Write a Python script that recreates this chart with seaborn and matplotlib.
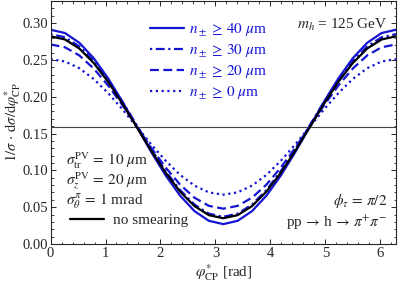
import numpy as np
import pandas as pd
import matplotlib
matplotlib.use("Agg")
import matplotlib.pyplot as plt
import seaborn as sns
from matplotlib.ticker import MultipleLocator

# x positions (rad), 15-degree steps from 0 to 2*pi
phi = [k * np.pi / 12 for k in range(25)]

half_40 = [0.291, 0.2865, 0.2733, 0.2523, 0.225, 0.1932, 0.159, 0.1248, 0.093, 0.0657, 0.0447, 0.0315, 0.027]
half_30 = [0.285, 0.2808, 0.2684, 0.2487, 0.223, 0.1931, 0.161, 0.1289, 0.099, 0.0733, 0.0536, 0.0412, 0.037]
half_20 = [0.271, 0.2672, 0.2561, 0.2383, 0.2153, 0.1884, 0.1595, 0.1306, 0.1038, 0.0807, 0.0629, 0.0518, 0.048]
half_0 = [0.251, 0.2479, 0.2387, 0.2241, 0.205, 0.1828, 0.159, 0.1352, 0.113, 0.0939, 0.0793, 0.0701, 0.067]
half_ns = [0.282, 0.2778, 0.2655, 0.2458, 0.2203, 0.1905, 0.1585, 0.1265, 0.0968, 0.0712, 0.0515, 0.0392, 0.035]

y_40 = half_40 + half_40[-2::-1]
y_30 = half_30 + half_30[-2::-1]
y_20 = half_20 + half_20[-2::-1]
y_0 = half_0 + half_0[-2::-1]
y_nosmear = half_ns + half_ns[-2::-1]

labels = [r"$n_\pm \,\geq\, 40\ \mu$m", r"$n_\pm \,\geq\, 30\ \mu$m",
          r"$n_\pm \,\geq\, 20\ \mu$m", r"$n_\pm \,\geq\, 0\ \mu$m"]
flat_line = 1 / (2 * np.pi)

sns.set_theme(style="ticks")
plt.rcParams["font.family"] = ["Liberation Serif", "DejaVu Serif"]
plt.rcParams["mathtext.fontset"] = "stix"

FS = 11
blue = "#1414d2"
fig = plt.figure(figsize=(3.99, 2.84), dpi=100)
ax = fig.add_axes([0.1266, 0.1408, 0.8659, 0.8557])

styles = [(blue, "-"), (blue, (0, (1, 1.6, 4, 1.6))), (blue, (0, (4, 2))), (blue, (0, (1, 1.6)))]
series = [y_40, y_30, y_20, y_0]
handles = []
for yv, lab, (c, ls) in zip(series, labels, styles):
    df = pd.DataFrame({"x": phi, "y": yv})
    sns.lineplot(data=df, x="x", y="y", ax=ax, color=c, lw=1.6, label=lab)
    ax.lines[-1].set_linestyle(ls)
    handles.append(ax.lines[-1])

df = pd.DataFrame({"x": phi, "y": y_nosmear})
sns.lineplot(data=df, x="x", y="y", ax=ax, color="black", lw=1.6, label="no smearing")
h_ns = ax.lines[-1]
ax.axhline(flat_line, color="#444444", lw=0.8, zorder=0)

ax.set_xlim(0, 2 * np.pi)
ax.set_ylim(0, 0.33)
ax.xaxis.set_major_locator(MultipleLocator(1))
ax.xaxis.set_minor_locator(MultipleLocator(0.2))
ax.yaxis.set_major_locator(MultipleLocator(0.05))
ax.yaxis.set_minor_locator(MultipleLocator(0.01))
ax.yaxis.set_major_formatter(matplotlib.ticker.FormatStrFormatter("%.2f"))
ax.tick_params(which="both", direction="in", top=True, right=True, labelsize=10.5, pad=1.5)
ax.tick_params(axis="x", pad=2.5)
ax.tick_params(which="major", length=3.5, width=0.7)
ax.tick_params(which="minor", length=1.8, width=0.6)
for s in ax.spines.values():
    s.set_linewidth(0.8)

ax.set_xlabel(r"$\varphi^{*}_{\mathrm{CP}}$ [rad]", fontsize=FS, labelpad=1)
ax.set_ylabel(r"$1/\sigma\,\cdot\,\mathrm{d}\sigma/\mathrm{d}\varphi^{*}_{\mathrm{CP}}$", fontsize=10.5, labelpad=0)

leg1 = ax.legend(handles=handles, labels=labels, loc="upper left", bbox_to_anchor=(0.27, 0.94),
                 frameon=False, fontsize=FS, handlelength=2.2, handletextpad=0.35,
                 labelspacing=0.3, borderaxespad=0)
for t in leg1.get_texts():
    t.set_color(blue)
ax.add_artist(leg1)
leg2 = ax.legend(handles=[h_ns], labels=["no smearing"], loc="lower left",
                 bbox_to_anchor=(0.04, 0.045), frameon=False, fontsize=FS,
                 handlelength=2.2, handletextpad=0.6, borderaxespad=0)

ax.text(0.045, 0.345, r"$\sigma^{\mathrm{PV}}_{\mathrm{tr}} \,=\, 10\ \mu$m", transform=ax.transAxes,
        fontsize=FS, va="center")
ax.text(0.045, 0.26, r"$\sigma^{\mathrm{PV}}_{z} \,=\, 20\ \mu$m", transform=ax.transAxes,
        fontsize=FS, va="center")
ax.text(0.045, 0.175, r"$\sigma^{\pi}_{\theta} \,=\, 1$ mrad", transform=ax.transAxes,
        fontsize=FS, va="center")
ax.text(0.975, 0.9, r"$m_h$ = 125 GeV", transform=ax.transAxes, fontsize=FS,
        ha="right", va="center")
ax.text(0.975, 0.177, r"$\phi_\tau \,=\, \pi/2$", transform=ax.transAxes, fontsize=FS,
        ha="right", va="center")
ax.text(0.975, 0.088, r"pp$\,\rightarrow\,$h$\,\rightarrow\,\pi^{+}\pi^{-}$", transform=ax.transAxes,
        fontsize=FS, ha="right", va="center")

fig.savefig("out.png", dpi=100)
